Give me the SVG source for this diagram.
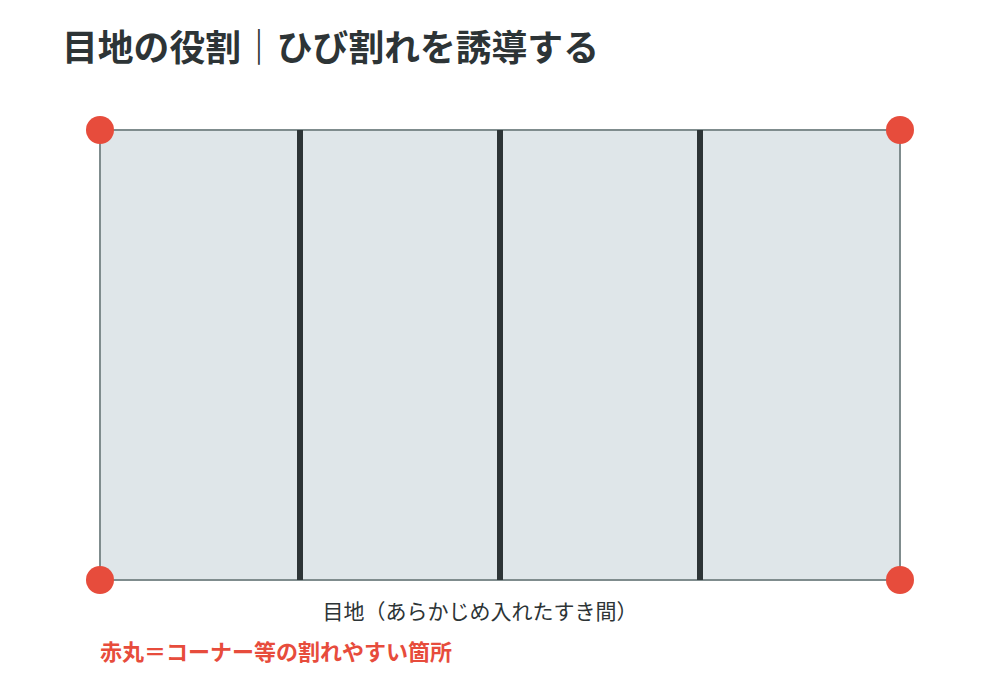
<svg xmlns="http://www.w3.org/2000/svg" width="1000" height="700" viewBox="0 0 1000 700">
<style>
.title{font-family:"Noto Sans CJK JP","Noto Sans",sans-serif;font-weight:700;font-size:35.8px;fill:#2d3436}
.label{font-family:"Noto Sans CJK JP","Noto Sans",sans-serif;font-size:21px;fill:#2d3436}
.note{font-family:"Noto Sans CJK JP","Noto Sans",sans-serif;font-weight:700;font-size:22px;fill:#e74c3c}
.joint{stroke:#2d3436;stroke-width:6}
.corner{fill:#e74c3c}
</style>
<rect width="1000" height="700" fill="#ffffff"/>
<text class="title" x="62" y="61">目地の役割｜ひび割れを誘導する</text>
<g id="slab">
<rect x="100" y="130" width="800" height="450" fill="#dfe6e9" stroke="#7f8c8d" stroke-width="2"/>
</g>
<g id="joints">
<line class="joint" x1="300" y1="130" x2="300" y2="580"/>
<line class="joint" x1="500" y1="130" x2="500" y2="580"/>
<line class="joint" x1="700" y1="130" x2="700" y2="580"/>
</g>
<g id="corners">
<circle class="corner" cx="100" cy="130" r="14"/>
<circle class="corner" cx="900" cy="130" r="14"/>
<circle class="corner" cx="100" cy="580" r="14"/>
<circle class="corner" cx="900" cy="580" r="14"/>
</g>
<text class="label" x="480" y="619" text-anchor="middle">目地（あらかじめ入れたすき間）</text>
<text class="note" x="100" y="660">赤丸＝コーナー等の割れやすい箇所</text>
</svg>
